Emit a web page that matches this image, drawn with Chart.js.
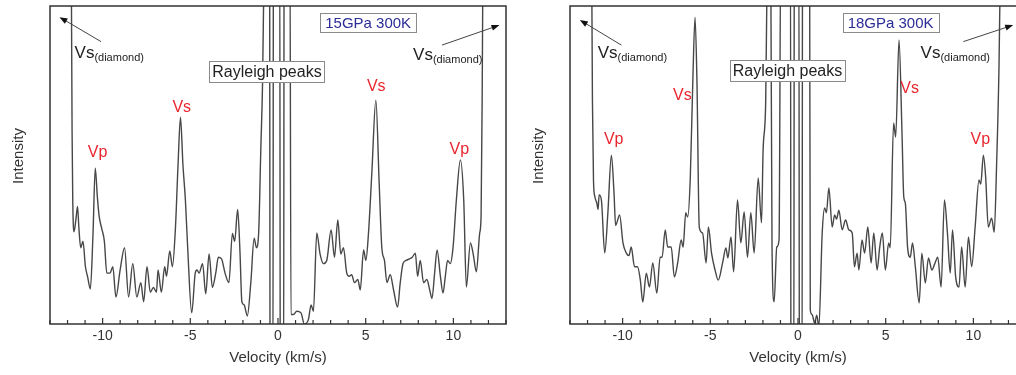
<!DOCTYPE html>
<html><head><meta charset="utf-8">
<script src="https://cdn.jsdelivr.net/npm/chart.js@4.4.0/dist/chart.umd.min.js"></script>
<style>
html,body{margin:0;padding:0;width:1016px;height:375px;overflow:hidden;background:#fff;}
.panel{position:absolute;top:0;width:516px;height:375px;}
</style></head><body>
<div class="panel" style="left:0"><canvas id="c15" width="516" height="375"></canvas></div>
<div class="panel" style="left:520px"><canvas id="c18" width="516" height="375"></canvas></div>
<script>
// ---- data (velocity km/s, intensity arb. units; values beyond 0..100 run off the frame) ----
const vel15 = [-11.80,-11.74,-11.70,-11.63,-11.52,-11.43,-11.35,-11.25,-11.12,-10.98,-10.86,-10.70,-10.55,-10.42,-10.30,-10.20,-10.05,-9.90,-9.76,-9.58,-9.42,-9.24,-9.00,-8.75,-8.52,-8.28,-8.05,-7.82,-7.66,-7.47,-7.28,-7.10,-6.93,-6.84,-6.65,-6.46,-6.36,-6.17,-6.02,-5.85,-5.70,-5.56,-5.42,-5.28,-5.15,-4.92,-4.72,-4.62,-4.50,-4.30,-4.12,-3.93,-3.74,-3.55,-3.40,-3.22,-3.02,-2.80,-2.60,-2.47,-2.30,-2.17,-2.06,-1.93,-1.75,-1.55,-1.36,-1.23,-1.10,-0.98,-0.88,-0.80,-0.62,-0.48,-0.45,-0.29,-0.26,0.10,0.13,0.32,0.35,0.68,0.74,0.88,1.07,1.31,1.50,1.73,1.89,2.02,2.21,2.40,2.59,2.78,3.03,3.22,3.41,3.58,3.73,3.92,4.06,4.20,4.36,4.55,4.69,4.88,5.01,5.16,5.35,5.58,5.77,5.92,6.07,6.21,6.40,6.59,6.82,6.97,7.13,7.31,7.50,7.66,7.83,7.96,8.11,8.30,8.49,8.65,8.78,8.93,9.07,9.26,9.41,9.54,9.67,9.82,9.98,10.17,10.40,10.59,10.74,10.97,11.13,11.31,11.50,11.58,11.64,11.70];
const int15 = [130,60,38,29,33,37,30,24,26,18,15,11,28,49,40,34,30,26,16,16,18,8.5,17,24,8.5,19,8.5,13,7,18,10,11.5,10,17,10,18,15,23,18,30,50,65,50,39,24,3.5,16,17,16,19,9.5,22,11.5,16,21,20.5,16,13,28.5,26,36,23,7,6,2.5,13,27,24,29,55,76,110,140,120,-20,-20,120,120,-20,-20,120,120,3,3,4,3.5,0,1.3,6,4,28.6,22,19,20,29.6,21,32.7,22,24,16,15,15.5,13,14,10.7,23.3,20,28.6,47.5,70.4,44,24,20,13,15.5,10.7,5.3,13,19,20,20.5,21,22.3,15,20,13,14,10.7,8,16,23.3,15,9.7,15,20,19,24,39,51.6,39,11.6,25.5,22,16.4,28.6,34,70,130];

const vel18 = [-11.78,-11.72,-11.66,-11.58,-11.47,-11.40,-11.34,-11.21,-11.02,-10.84,-10.64,-10.49,-10.40,-10.17,-9.98,-9.79,-9.64,-9.51,-9.32,-9.15,-8.99,-8.85,-8.65,-8.47,-8.28,-8.05,-7.86,-7.75,-7.57,-7.43,-7.23,-7.05,-6.86,-6.66,-6.55,-6.40,-6.29,-6.14,-6.00,-5.87,-5.76,-5.63,-5.44,-5.24,-5.11,-4.93,-4.73,-4.55,-4.30,-4.11,-4.00,-3.82,-3.67,-3.45,-3.26,-3.07,-2.88,-2.69,-2.50,-2.27,-2.08,-1.99,-1.84,-1.74,-1.62,-1.55,-1.48,-1.36,-1.21,-1.08,-0.98,-0.43,-0.40,-0.24,-0.21,0.05,0.08,0.23,0.26,0.66,0.70,0.80,0.95,1.07,1.19,1.38,1.52,1.62,1.76,1.95,2.09,2.20,2.33,2.52,2.71,2.90,3.09,3.22,3.37,3.47,3.65,3.80,3.98,4.17,4.32,4.51,4.66,4.81,4.98,5.17,5.26,5.45,5.57,5.76,5.93,6.03,6.12,6.25,6.40,6.53,6.69,6.91,7.06,7.26,7.44,7.63,7.80,7.97,8.16,8.35,8.52,8.68,8.81,8.99,9.18,9.33,9.53,9.72,9.90,10.10,10.32,10.42,10.57,10.70,10.85,11.04,11.19,11.32,11.46,11.58];
const int18 = [130,70,45,40,38,36,40.6,39,22.3,35,53.1,41.2,31,34.3,25.5,22.3,21.5,24.2,18,18,13.8,6.9,16,11.6,19.2,9.7,21,21,29.6,24.2,24.2,14.8,19.2,26.4,24.2,35,33.6,46.2,75.8,96.5,75.8,30.5,28.6,19.2,30.5,22.3,17,13.8,19.2,23.9,20.8,27.4,16.4,39,25.5,35.2,21,35,22.3,45.9,31.8,54.7,70.4,120,130,110,24,7,24.2,26.4,120,120,-20,-20,120,120,-20,-20,120,120,4.4,3,0.3,2.8,-1,28.6,36.5,35,42.8,30.5,34.3,33,35.8,29.6,32.7,29.6,28.6,18,22.3,17,26.4,22.3,30.5,19.2,28.6,17,24.2,28.6,17,25.5,24,63.2,58.8,89.3,60,40,38,24,21,25.5,18,6.6,22.3,12.9,20.8,17,19,21,11.6,39,28.6,16,29.6,14.8,11.6,24.2,11.6,27.4,18,30.5,45.3,44,53.1,46.2,30.5,33.3,28.9,49.4,80.8,130];

const majorTicks = [-10, -5, 0, 5, 10];
const xTitle = 'Velocity (km/s)';
const yTitle = 'Intensity';
const panelTitles = ['15GPa 300K', '18GPa 300K'];

const FONT = "'Liberation Sans', Arial, sans-serif";
const RED = '#e8252e';
const INK = '#333333';

const decor = {
  id: 'decor',
  afterDatasetsDraw(chart, args, o) {
    const {ctx, chartArea: a, scales: {x, y}} = chart;
    ctx.save();
    // frame
    ctx.strokeStyle = INK; ctx.lineWidth = 1.5;
    ctx.strokeRect(a.left, a.top, a.right - a.left, a.bottom - a.top);
    // inward ticks
    ctx.lineWidth = 1.2;
    x.ticks.forEach(t => {
      const px = x.getPixelForValue(t.value);
      const len = majorTicks.includes(t.value) ? 6 : 4;
      ctx.beginPath(); ctx.moveTo(px, a.bottom); ctx.lineTo(px, a.bottom - len); ctx.stroke();
    });
    // y title
    ctx.save();
    ctx.translate(19, (a.top + a.bottom) / 2 - 9);
    ctx.rotate(-Math.PI / 2);
    ctx.fillStyle = INK; ctx.font = '15px ' + FONT;
    ctx.textAlign = 'center'; ctx.textBaseline = 'middle';
    ctx.fillText(yTitle, 0, 0);
    ctx.restore();
    // boxes
    o.boxes.forEach(b => {
      ctx.font = b.size + 'px ' + FONT;
      const w = ctx.measureText(b.t).width + 2 * b.padX;
      const cx = x.getPixelForValue(b.x), cy = y.getPixelForValue(b.y);
      ctx.fillStyle = '#fff';
      ctx.fillRect(cx - w / 2, cy - b.h / 2, w, b.h);
      ctx.strokeStyle = '#8a8a8a'; ctx.lineWidth = 1;
      ctx.strokeRect(Math.round(cx - w / 2) + 0.5, Math.round(cy - b.h / 2) + 0.5, Math.round(w), b.h);
      ctx.fillStyle = b.color; ctx.textAlign = 'center'; ctx.textBaseline = 'middle';
      ctx.fillText(b.t, cx, cy + 1);
    });
    // red labels
    ctx.fillStyle = RED; ctx.font = '16px ' + FONT;
    ctx.textAlign = 'center'; ctx.textBaseline = 'middle';
    o.red.forEach(l => ctx.fillText(l.t, x.getPixelForValue(l.x), y.getPixelForValue(l.y)));
    // Vs(diamond)
    o.diamond.forEach(d => {
      const px = x.getPixelForValue(d.x), py = y.getPixelForValue(d.y);
      ctx.fillStyle = '#222'; ctx.textAlign = 'left'; ctx.textBaseline = 'alphabetic';
      ctx.font = '17px ' + FONT;
      ctx.fillText('Vs', px, py);
      const w = ctx.measureText('Vs').width;
      ctx.font = '11px ' + FONT;
      ctx.fillText('(diamond)', px + w, py + 3);
    });
    // arrows
    o.arrows.forEach(r => {
      const x1 = x.getPixelForValue(r.x1), y1 = y.getPixelForValue(r.y1);
      const x2 = x.getPixelForValue(r.x2), y2 = y.getPixelForValue(r.y2);
      const ang = Math.atan2(y2 - y1, x2 - x1);
      ctx.strokeStyle = '#444'; ctx.fillStyle = '#111'; ctx.lineWidth = 1;
      ctx.beginPath(); ctx.moveTo(x1, y1); ctx.lineTo(x2 - 5 * Math.cos(ang), y2 - 5 * Math.sin(ang)); ctx.stroke();
      ctx.beginPath();
      ctx.moveTo(x2, y2);
      ctx.lineTo(x2 - 8 * Math.cos(ang) + 3 * Math.sin(ang), y2 - 8 * Math.sin(ang) - 3 * Math.cos(ang));
      ctx.lineTo(x2 - 8 * Math.cos(ang) - 3 * Math.sin(ang), y2 - 8 * Math.sin(ang) + 3 * Math.cos(ang));
      ctx.closePath(); ctx.fill();
    });
    ctx.restore();
  }
};

function makeChart(id, vel, inten, deco) {
  const pts = vel.map((v, i) => ({x: v, y: inten[i]}));
  return new Chart(document.getElementById(id), {
    type: 'line',
    data: {datasets: [{data: pts, borderColor: '#474747', borderWidth: 1.4, pointRadius: 0,
      cubicInterpolationMode: 'monotone', fill: false}]},
    options: {
      responsive: false, animation: false, devicePixelRatio: 1,
      layout: {padding: {left: 0, right: 10, top: 6, bottom: 0}},
      plugins: {legend: {display: false}, tooltip: {enabled: false}, decor: deco},
      scales: {
        x: {type: 'linear', min: -13, max: 13,
          grid: {display: false, drawTicks: false}, border: {display: false},
          ticks: {stepSize: 1, autoSkip: false, maxRotation: 0, padding: 4, color: INK,
            font: {family: FONT, size: 14},
            callback: v => majorTicks.includes(v) ? String(v) : ''},
          title: {display: true, text: xTitle, color: INK, font: {family: FONT, size: 15},
            padding: {top: 0, bottom: 8}},
          afterFit: s => { s.height = 51; }
        },
        y: {min: 0, max: 100, grid: {display: false, drawTicks: false}, border: {display: false},
          ticks: {display: false},
          afterFit: s => { s.width = 50; }
        }
      }
    },
    plugins: [decor]
  });
}

makeChart('c15', vel15, int15, {
  boxes: [
    {t: 'Rayleigh peaks', x: -0.63, y: 79.4, size: 16, padX: 3, h: 21, color: '#222'},
    {t: panelTitles[0], x: 5.14, y: 94.8, size: 15, padX: 5, h: 19, color: '#2b2c96'}
  ],
  red: [{t: 'Vp', x: -10.29, y: 54}, {t: 'Vs', x: -5.49, y: 68}, {t: 'Vs', x: 5.6, y: 74.5}, {t: 'Vp', x: 10.34, y: 55}],
  diamond: [{x: -11.6, y: 83.6}, {x: 7.7, y: 83.0}],
  arrows: [{x1: -10.09, y1: 88.8, x2: -12.46, y2: 96.5}, {x1: 9.35, y1: 87.7, x2: 12.63, y2: 94}]
});

makeChart('c18', vel18, int18, {
  boxes: [
    {t: 'Rayleigh peaks', x: -0.6, y: 79.6, size: 16, padX: 3, h: 21, color: '#222'},
    {t: panelTitles[1], x: 5.28, y: 94.7, size: 15, padX: 5, h: 19, color: '#2b2c96'}
  ],
  red: [{t: 'Vp', x: -10.51, y: 57.9}, {t: 'Vs', x: -6.59, y: 71.7}, {t: 'Vs', x: 6.36, y: 73.9}, {t: 'Vp', x: 10.4, y: 57.9}],
  diamond: [{x: -11.42, y: 83.6}, {x: 6.99, y: 83.6}],
  arrows: [{x1: -10.07, y1: 87.7, x2: -12.44, y2: 95.6}, {x1: 9.43, y1: 88.8, x2: 12.27, y2: 94}]
});
</script>
</body></html>
